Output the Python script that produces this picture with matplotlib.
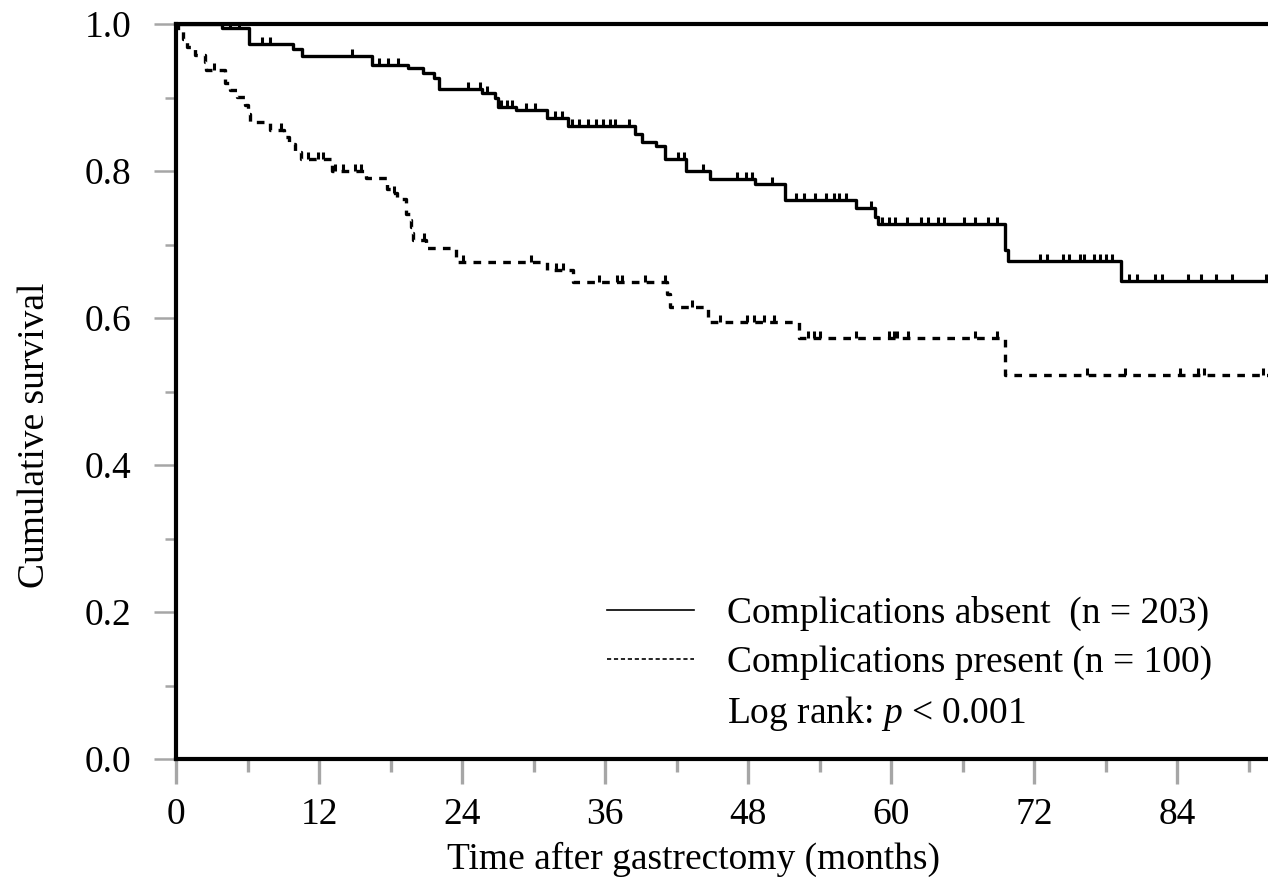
import numpy as np
import matplotlib
matplotlib.use("Agg")
import matplotlib.pyplot as plt
from matplotlib.path import Path
from matplotlib.lines import Line2D

plt.rcParams['font.family'] = ['Liberation Serif', 'DejaVu Serif']
plt.rcParams['mathtext.fontset'] = 'custom'
plt.rcParams['mathtext.it'] = 'Liberation Serif:italic'
plt.rcParams['mathtext.rm'] = 'Liberation Serif'
plt.rcParams['lines.scale_dashes'] = False

# complications absent (n = 203): step times (months) and survival after each step
absent_times = [0, 3.9, 6.1, 9.8, 10.6, 16.4, 19.5, 20.7, 21.6, 22.1, 25.7, 26.8,
                27.0, 28.5, 31.1, 32.9, 38.5, 39.1, 40.3, 41.0, 42.8, 44.8, 48.6,
                51.1, 57.0, 58.6, 58.9, 69.5, 69.8, 79.3, 91.6]
absent_surv = [1.0, 0.995, 0.973, 0.966, 0.956, 0.944, 0.940, 0.933, 0.926, 0.912,
               0.906, 0.899, 0.887, 0.883, 0.872, 0.861, 0.850, 0.840, 0.834, 0.816,
               0.800, 0.789, 0.782, 0.760, 0.750, 0.738, 0.728, 0.693, 0.677, 0.650,
               0.650]
absent_censor = [4.5, 5.3, 7.2, 7.9, 14.8, 17.0, 17.8, 18.6, 24.5, 25.5, 26.1, 27.3,
                 27.8, 28.2, 29.4, 30.1, 31.8, 32.4, 33.2, 33.8, 34.6, 35.2, 35.8,
                 36.4, 36.8, 38.0, 42.1, 42.6, 44.2, 47.1, 47.8, 48.3, 50.0, 52.0,
                 52.7, 53.6, 54.5, 55.2, 55.6, 56.2, 58.3, 59.2, 59.8, 60.3, 61.3,
                 62.5, 63.1, 63.9, 64.4, 66.1, 67.0, 68.1, 68.9, 72.5, 73.1, 74.4,
                 74.9, 75.8, 76.2, 77.0, 77.5, 78.0, 78.5, 79.9, 80.6, 82.1, 82.7,
                 84.9, 86.0, 87.2, 88.6, 91.4]

# complications present (n = 100)
present_times = [0, 0.2, 0.6, 0.9, 1.6, 2.4, 2.5, 4.1, 4.5, 5.1, 5.8, 6.0, 6.2, 7.9,
                 9.1, 9.5, 10.0, 10.5, 13.1, 15.9, 17.7, 18.2, 18.5, 19.3, 19.6,
                 19.7, 19.8, 19.9, 21.0, 23.5, 31.1, 33.3, 41.2, 41.4, 44.6, 52.3,
                 69.5, 91.6]
present_surv = [1.0, 0.99, 0.98, 0.969, 0.958, 0.948, 0.937, 0.92, 0.91, 0.901,
                0.89, 0.878, 0.866, 0.856, 0.846, 0.837, 0.826, 0.817, 0.80, 0.79,
                0.776, 0.770, 0.762, 0.742, 0.733, 0.724, 0.715, 0.706, 0.695,
                0.676, 0.665, 0.649, 0.632, 0.615, 0.594, 0.573, 0.522, 0.522]
present_censor = [3.2, 8.8, 11.1, 11.9, 12.3, 13.3, 14.0, 15.0, 15.5, 18.3, 20.8,
                  24.1, 29.8, 31.9, 32.5, 35.5, 37.0, 37.4, 39.3, 41.0, 43.3, 45.6,
                  47.9, 48.5, 49.3, 50.2, 53.0, 53.5, 54.0, 57.0, 59.8, 60.2, 60.5,
                  61.4, 67.0, 68.9, 76.4, 79.6, 84.2, 85.7, 86.2, 91.2]

x_major = [0, 12, 24, 36, 48, 60, 72, 84]
y_major = [0.0, 0.2, 0.4, 0.6, 0.8, 1.0]

tick_mark = Path([(0, 0), (0, 1)], [Path.MOVETO, Path.LINETO])


def level_at(times, surv, t):
    idx = np.searchsorted(times, t, side='right') - 1
    return np.asarray(surv)[idx]


fig = plt.figure(figsize=(12.68, 8.80), dpi=100)
ax = fig.add_axes([176 / 1268, 121 / 880, 1092 / 1268, 735 / 880])

ax.step(absent_times, absent_surv, where='post', color='black', lw=2.4,
        solid_capstyle='butt')
ax.step(present_times, present_surv, where='post', color='black', lw=2.4,
        linestyle=(0, (5.5, 5.2)), dash_capstyle='butt')

for times, surv, cens in [(absent_times, absent_surv, absent_censor),
                          (present_times, present_surv, present_censor)]:
    ax.plot(cens, level_at(times, surv, cens), linestyle='none',
            marker=tick_mark, ms=10, mew=2.2, color='black', fillstyle='none')

ax.set_xlim(0, 91.6)
ax.set_ylim(0, 1.0)
ax.set_xticks(x_major)
ax.set_xticks(np.arange(6, 92, 12), minor=True)
ax.set_yticks(y_major)
ax.set_yticks([0.1, 0.3, 0.5, 0.7, 0.9], minor=True)
ax.set_yticklabels([f"{v:.1f}" for v in y_major])

for side in ['left', 'bottom', 'top']:
    ax.spines[side].set_linewidth(3)
    ax.spines[side].set_color('black')
ax.spines['right'].set_visible(False)

ax.tick_params(axis='x', which='major', length=18, width=2.4, color='#a6a6a6',
               pad=10, labelsize=27)
ax.tick_params(axis='x', which='minor', length=9, width=2.4, color='#a6a6a6')
ax.tick_params(axis='y', which='major', length=16, width=1.8, color='#a6a6a6',
               pad=16, labelsize=27)
ax.tick_params(axis='y', which='minor', length=8, width=1.8, color='#a6a6a6')

ax.set_xlabel("Time after gastrectomy (months)", fontsize=27)
ax.set_ylabel("Cumulative survival", fontsize=27)
ax.xaxis.set_label_coords(0.474, -0.113)
ax.yaxis.set_label_coords(-0.114, 0.44)

handles = [Line2D([], [], color='black', lw=1.2),
           Line2D([], [], color='black', lw=1.2, linestyle=(0, (3, 2))),
           Line2D([], [], color='none')]
labels = ["Complications absent  (n = 203)",
          "Complications present (n = 100)",
          "Log rank: $p$ < 0.001"]
ax.legend(handles, labels, loc='upper left', bbox_to_anchor=(0.395, 0.222),
          frameon=False, fontsize=27, borderpad=0, borderaxespad=0,
          handlelength=2.3, handletextpad=0.88, labelspacing=0.38)

fig.savefig("out.png", dpi=100)
